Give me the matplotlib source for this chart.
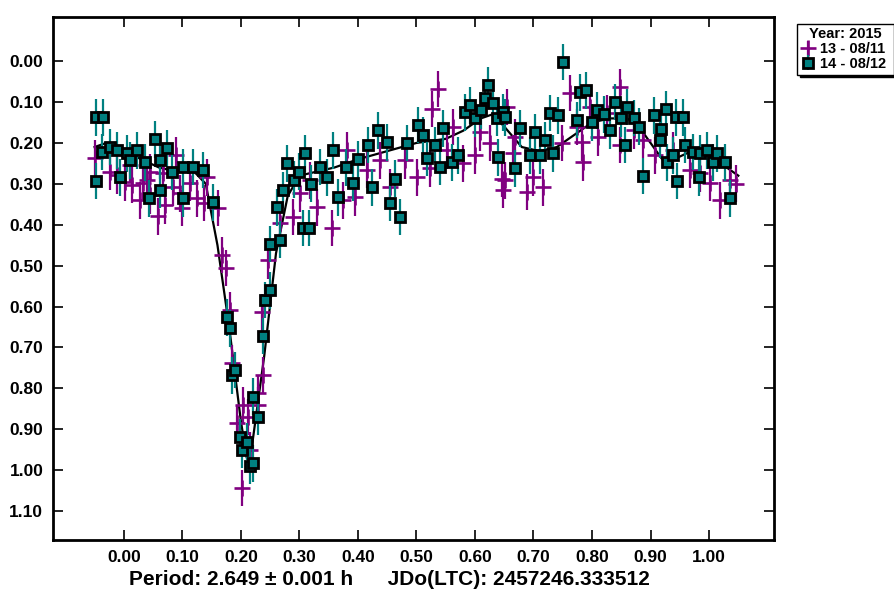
import numpy as np
import matplotlib
matplotlib.use("Agg")
import matplotlib.pyplot as plt

plt.rcParams['font.family'] = ['Liberation Sans', 'DejaVu Sans']
plt.rcParams['font.weight'] = 'bold'

# session 13 - 08/11 (purple crosses)
phase_13 = [-0.05, -0.024, -0.012, 0.002, 0.01, 0.014, 0.027, 0.032, 0.039, 0.044, 0.044, 0.058,
            0.067, 0.07, 0.084, 0.09, 0.096, 0.099, 0.113, 0.125, 0.137, 0.142, 0.161, 0.168,
            0.174, 0.181, 0.185, 0.193, 0.202, 0.203, 0.212, 0.215, 0.229, 0.229, 0.236, 0.238,
            0.246, 0.267, 0.289, 0.301, 0.318, 0.33, 0.356, 0.374, 0.381, 0.395, 0.415, 0.438,
            0.455, 0.48, 0.501, 0.523, 0.526, 0.537, 0.552, 0.563, 0.579, 0.6, 0.609, 0.626,
            0.646, 0.648, 0.651, 0.655, 0.665, 0.668, 0.689, 0.699, 0.716, 0.749, 0.762, 0.774,
            0.783, 0.785, 0.797, 0.81, 0.826, 0.848, 0.848, 0.871, 0.887, 0.908, 0.938, 0.968,
            0.985, 1.002, 1.019, 1.036, 1.046]
mag_13 = [0.237, 0.271, 0.279, 0.296, 0.254, 0.303, 0.34, 0.298, 0.291, 0.271, 0.328, 0.379,
          0.274, 0.352, 0.308, 0.23, 0.323, 0.359, 0.298, 0.335, 0.347, 0.284, 0.359, 0.474,
          0.506, 0.609, 0.738, 0.885, 1.044, 0.841, 0.87, 0.951, 0.812, 0.841, 0.614, 0.768,
          0.487, 0.396, 0.381, 0.323, 0.291, 0.357, 0.408, 0.34, 0.218, 0.333, 0.266, 0.242,
          0.308, 0.242, 0.284, 0.262, 0.117, 0.068, 0.218, 0.161, 0.25, 0.23, 0.174, 0.2,
          0.287, 0.315, 0.291, 0.112, 0.225, 0.186, 0.32, 0.284, 0.308, 0.2, 0.078, 0.161,
          0.198, 0.247, 0.112, 0.186, 0.127, 0.064, 0.205, 0.169, 0.193, 0.23, 0.218, 0.266,
          0.274, 0.298, 0.34, 0.291, 0.30]
err_13 = 0.045

# session 14 - 08/12 (teal squares)
phase_14 = [-0.048, -0.036, -0.048, -0.038, -0.024, -0.012, -0.007, 0.005, 0.01, 0.022, 0.036,
            0.043, 0.053, 0.062, 0.062, 0.073, 0.082, 0.101, 0.101, 0.118, 0.135, 0.152, 0.176,
            0.181, 0.185, 0.19, 0.198, 0.202, 0.21, 0.215, 0.221, 0.221, 0.229, 0.238, 0.241,
            0.25, 0.25, 0.261, 0.267, 0.272, 0.279, 0.29, 0.30, 0.306, 0.309, 0.316, 0.32, 0.335,
            0.347, 0.357, 0.366, 0.38, 0.391, 0.40, 0.417, 0.424, 0.434, 0.45, 0.455, 0.463,
            0.472, 0.484, 0.503, 0.511, 0.518, 0.532, 0.54, 0.545, 0.561, 0.571, 0.583, 0.591,
            0.60, 0.61, 0.617, 0.622, 0.631, 0.637, 0.639, 0.648, 0.651, 0.668, 0.677, 0.694,
            0.703, 0.711, 0.72, 0.728, 0.733, 0.742, 0.75, 0.774, 0.779, 0.79, 0.80, 0.809,
            0.82, 0.831, 0.839, 0.85, 0.856, 0.86, 0.871, 0.88, 0.887, 0.906, 0.916, 0.918,
            0.926, 0.928, 0.938, 0.944, 0.945, 0.955, 0.959, 0.973, 0.983, 0.985, 0.997, 1.007,
            1.014, 1.027, 1.036]
mag_14 = [0.137, 0.137, 0.293, 0.222, 0.21, 0.218, 0.284, 0.225, 0.242, 0.218, 0.247,
          0.335, 0.191, 0.242, 0.315, 0.213, 0.271, 0.259, 0.335, 0.259, 0.266, 0.345, 0.626,
          0.653, 0.768, 0.755, 0.919, 0.951, 0.931, 0.99, 0.983, 0.821, 0.87, 0.672, 0.584,
          0.56, 0.447, 0.357, 0.437, 0.315, 0.25, 0.29, 0.27, 0.408, 0.225, 0.408, 0.30, 0.259,
          0.284, 0.218, 0.333, 0.26, 0.298, 0.24, 0.205, 0.308, 0.169, 0.198, 0.347, 0.287,
          0.381, 0.2, 0.156, 0.181, 0.237, 0.205, 0.259, 0.164, 0.247, 0.23, 0.125, 0.108,
          0.14, 0.12, 0.09, 0.059, 0.103, 0.139, 0.235, 0.125, 0.137, 0.262, 0.164, 0.23,
          0.174, 0.23, 0.193, 0.127, 0.225, 0.132, 0.002, 0.144, 0.076, 0.071, 0.15, 0.12,
          0.13, 0.169, 0.1, 0.14, 0.205, 0.112, 0.139, 0.16, 0.281, 0.132, 0.193, 0.166,
          0.117, 0.247, 0.23, 0.137, 0.293, 0.137, 0.205, 0.222, 0.284, 0.225, 0.218, 0.247,
          0.225, 0.247, 0.335]
err_14 = 0.045

# fourier fit
fit_phase = [-0.05, -0.03, 0.0, 0.03, 0.06, 0.09, 0.12, 0.14, 0.16, 0.18, 0.20, 0.21, 0.22, 0.24,
             0.26, 0.28, 0.30, 0.33, 0.36, 0.40, 0.45, 0.50, 0.55, 0.58, 0.61, 0.63, 0.65, 0.68,
             0.71, 0.74, 0.77, 0.80, 0.83, 0.86, 0.88, 0.90, 0.92, 0.94, 0.97, 1.00, 1.03, 1.05]
fit_mag = [0.21, 0.20, 0.22, 0.24, 0.26, 0.27, 0.27, 0.30, 0.45, 0.65, 0.88, 0.97, 0.93, 0.72,
           0.47, 0.33, 0.28, 0.27, 0.26, 0.24, 0.22, 0.20, 0.19, 0.17, 0.14, 0.13, 0.16, 0.21,
           0.22, 0.21, 0.18, 0.15, 0.14, 0.14, 0.16, 0.20, 0.24, 0.24, 0.22, 0.23, 0.26, 0.28]

x_ticks = [0.0, 0.1, 0.2, 0.3, 0.4, 0.5, 0.6, 0.7, 0.8, 0.9, 1.0]
y_ticks = [0.0, 0.1, 0.2, 0.3, 0.4, 0.5, 0.6, 0.7, 0.8, 0.9, 1.0, 1.1]

fig = plt.figure(figsize=(8.94, 5.90), dpi=100)
ax = fig.add_axes([0.0593, 0.0847, 0.8065, 0.8865])

ax.plot(fit_phase, fit_mag, color='black', lw=1.6, zorder=2)

ax.errorbar(phase_13, mag_13, yerr=err_13, fmt='+', color='#800080', ecolor='#800080',
            ms=12, mew=1.9, elinewidth=1.6, capsize=0, zorder=3, label='13 - 08/11 ')
ax.errorbar(phase_14, mag_14, yerr=err_14, fmt='s', mfc='#008080', mec='black', ecolor='#008080',
            ms=7, mew=2.0, elinewidth=1.6, capsize=0, zorder=4, label='14 - 08/12 ')

ax.set_xlim(-0.121, 1.111)
ax.set_ylim(1.171, -0.108)
ax.set_xticks(x_ticks)
ax.set_xticklabels(['%.2f' % v for v in x_ticks])
ax.set_yticks(y_ticks)
ax.set_yticklabels(['%.2f' % v for v in y_ticks])
ax.tick_params(direction='in', length=7, width=1.2, top=True, right=True,
               labelsize=12.5, pad=7)
for s in ax.spines.values():
    s.set_linewidth(2)

ax.set_xlabel('Period: 2.649 \u00b1 0.001 h      JDo(LTC): 2457246.333512',
              fontsize=15, fontweight='bold')
ax.xaxis.set_label_coords(0.467, -0.058, transform=ax.transAxes)
ax.xaxis.label.set_va('top')

leg = ax.legend(loc='upper left', bbox_to_anchor=(1.032, 0.987), title='Year: 2015',
                fontsize=10.5, title_fontproperties={'weight': 'bold', 'size': 10.5},
                frameon=True, fancybox=False, shadow={'color': 'black', 'alpha': 1},
                edgecolor='black', handlelength=1.0, handletextpad=0.3, borderpad=0.25,
                labelspacing=0.05, borderaxespad=0)
leg.get_frame().set_linewidth(1.0)
for t in leg.get_texts():
    t.set_fontweight('bold')

fig.savefig('out.png', dpi=100)
